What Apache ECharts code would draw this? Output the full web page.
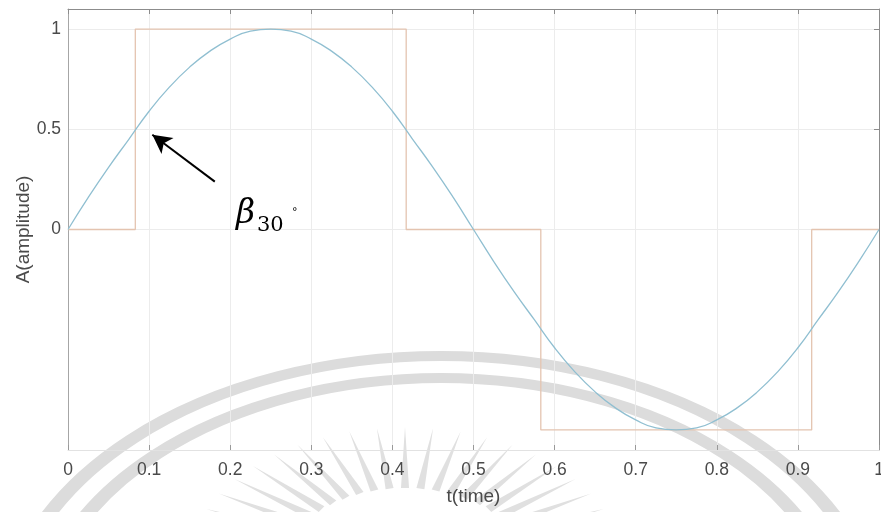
<!DOCTYPE html>
<html>
<head>
<meta charset="utf-8">
<script src="https://cdn.jsdelivr.net/npm/echarts@6/dist/echarts.min.js"></script>
<style>
  html, body { margin: 0; padding: 0; background: #fff; }
  #chart { width: 881px; height: 512px; }
</style>
</head>
<body>
<div id="chart"></div>
<script>
// sine curve, every 0.025 s
const sineT = [0, 0.025, 0.05, 0.075, 0.1, 0.125, 0.15, 0.175, 0.2, 0.225, 0.25,
  0.275, 0.3, 0.325, 0.35, 0.375, 0.4, 0.425, 0.45, 0.475, 0.5,
  0.525, 0.55, 0.575, 0.6, 0.625, 0.65, 0.675, 0.7, 0.725, 0.75,
  0.775, 0.8, 0.825, 0.85, 0.875, 0.9, 0.925, 0.95, 0.975, 1];
const sineA = [0, 0.16, 0.31, 0.45, 0.59, 0.71, 0.81, 0.89, 0.95, 0.99, 1,
  0.99, 0.95, 0.89, 0.81, 0.71, 0.59, 0.45, 0.31, 0.16, 0,
  -0.16, -0.31, -0.45, -0.59, -0.71, -0.81, -0.89, -0.95, -0.99, -1,
  -0.99, -0.95, -0.89, -0.81, -0.71, -0.59, -0.45, -0.31, -0.16, 0];

// quasi-square wave corners
const squareT = [0, 0.083, 0.083, 0.417, 0.417, 0.583, 0.583, 0.917, 0.917, 1];
const squareA = [0, 0, 1, 1, 0, 0, -1, -1, 0, 0];

const yTicks = [0, 0.5, 1];
const arrowFrom = [0.181, 0.239];
const arrowTo = [0.104, 0.473];

const zip = (a, b) => a.map((v, i) => [v, b[i]]);

let chart = echarts.init(document.getElementById('chart'));

const tickFont = { fontFamily: 'Liberation Sans', fontSize: 17.5, color: '#4a4a4a' };
const nameFont = { fontFamily: 'Liberation Sans', fontSize: 19, color: '#4a4a4a' };

// faint round emblem (watermark) over the lower half
function watermark() {
  let items = [];
  [284, 262].forEach(r => items.push({
    type: 'arc', silent: true, z: -10,
    x: 441, y: 640, scaleX: 1.54,
    shape: { cx: 0, cy: 0, r: r, startAngle: Math.PI, endAngle: 2 * Math.PI },
    style: { stroke: '#dcdcdc', lineWidth: 10, fill: null, strokeNoScale: true }
  }));
  let cx = 405, cy = 560;
  for (let a = -165; a <= -15; a += 7.5) {
    let rad = a * Math.PI / 180;
    let c = Math.cos(rad), s = Math.sin(rad);
    items.push({
      type: 'polygon', silent: true, z: -10,
      shape: {
        points: [
          [cx + c * 215, cy + s * 133],
          [cx + c * 118 - s * 4, cy + s * 72 + c * 4],
          [cx + c * 118 + s * 4, cy + s * 72 - c * 4]
        ]
      },
      style: { fill: '#e0e0e0' }
    });
  }
  return items;
}

chart.setOption({
  animation: false,
  grid: { left: 68, right: 2, top: 9, bottom: 62, outerBoundsMode: 'none' },
  xAxis: [
    {
      type: 'value', min: 0, max: 1, interval: 0.1,
      name: 't(time)', nameLocation: 'middle', nameGap: 37, nameMoveOverlap: false,
      nameTextStyle: nameFont,
      axisLine: { onZero: false, lineStyle: { color: '#e2e2e2', width: 1 } },
      axisTick: { inside: true, length: 5, lineStyle: { color: '#999' } },
      axisLabel: Object.assign({ margin: 11, formatter: v => +v.toFixed(1) + '' }, tickFont),
      splitLine: { lineStyle: { color: '#ececec', width: 1 } }
    },
    {
      type: 'value', min: 0, max: 1, interval: 0.1, position: 'top',
      axisLine: { onZero: false, lineStyle: { color: '#8c8c8c', width: 1 } },
      axisTick: { inside: true, length: 5, lineStyle: { color: '#8c8c8c' } },
      axisLabel: { show: false },
      splitLine: { show: false }
    }
  ],
  yAxis: [
    {
      type: 'value', min: -1.1, max: 1.1,
      name: 'A(amplitude)', nameLocation: 'middle', nameGap: 35, nameMoveOverlap: false,
      nameTextStyle: nameFont,
      axisLine: { show: true, onZero: false, lineStyle: { color: '#a6a6a6', width: 1 } },
      axisTick: { show: false, customValues: yTicks },
      axisLabel: Object.assign({ margin: 7, customValues: yTicks }, tickFont),
      splitLine: { lineStyle: { color: '#ececec', width: 1 } }
    },
    {
      type: 'value', min: -1.1, max: 1.1, position: 'right',
      axisLine: { show: true, onZero: false, lineStyle: { color: '#8c8c8c', width: 1 } },
      axisTick: { show: true, inside: true, length: 5, customValues: yTicks, lineStyle: { color: '#8c8c8c' } },
      axisLabel: { show: false },
      splitLine: { show: false }
    }
  ],
  series: [
    {
      name: 'square',
      type: 'line',
      data: zip(squareT, squareA),
      showSymbol: false,
      lineStyle: { color: '#e4c4b0', width: 1.3 },
      silent: true,
      z: 2
    },
    {
      name: 'sine',
      type: 'line',
      data: zip(sineT, sineA),
      smooth: true,
      showSymbol: false,
      lineStyle: { color: '#90bfd1', width: 1.3 },
      silent: true,
      z: 3,
      markLine: {
        silent: true,
        symbol: ['none', 'arrow'],
        symbolSize: [15, 19],
        label: { show: false },
        lineStyle: { color: '#000', width: 2, type: 'solid' },
        data: [[{ coord: arrowFrom }, { coord: arrowTo }]]
      }
    }
  ],
  graphic: watermark().concat([
    {
      type: 'text', x: 236, y: 231, silent: true, z: 10,
      style: { text: 'β', fontFamily: 'DejaVu Serif', fontStyle: 'italic', fontSize: 33, fill: '#000', verticalAlign: 'bottom' }
    },
    {
      type: 'text', x: 257, y: 236, silent: true, z: 10,
      style: { text: '30', fontFamily: 'DejaVu Serif', fontSize: 21, fill: '#000', verticalAlign: 'bottom' }
    },
    {
      type: 'text', x: 292, y: 207, silent: true, z: 10,
      style: { text: '°', fontFamily: 'DejaVu Sans', fontSize: 11, fill: '#000', verticalAlign: 'top' }
    }
  ])
});
</script>
</body>
</html>
